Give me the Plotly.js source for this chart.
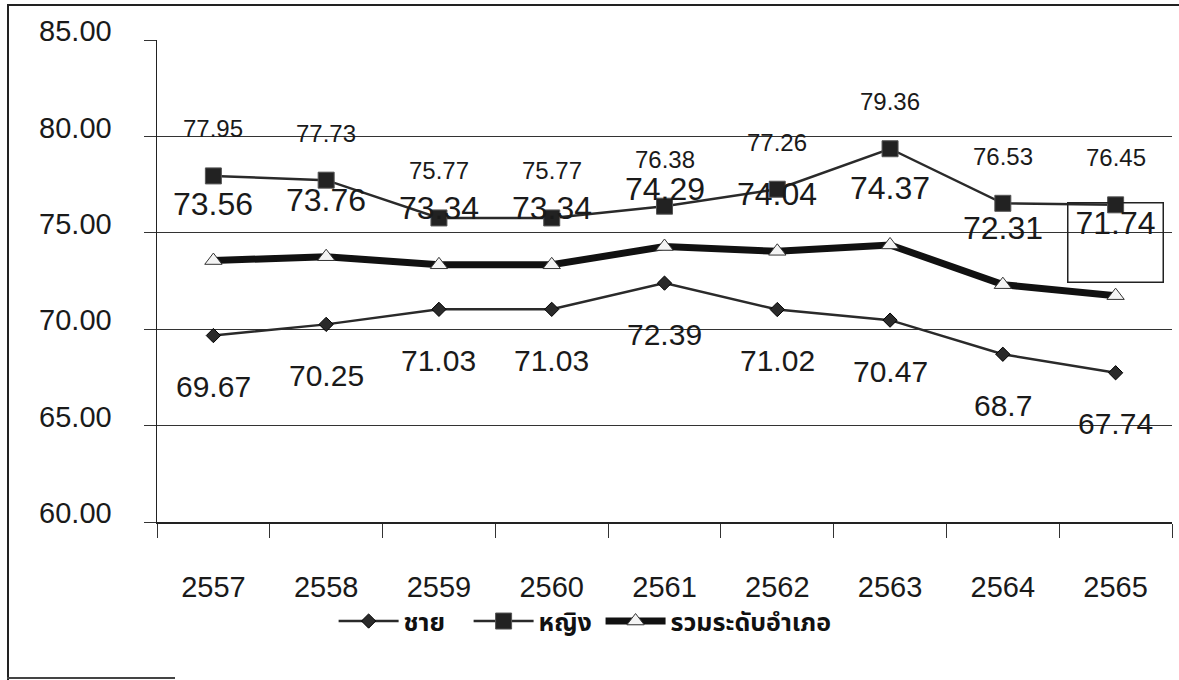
<!DOCTYPE html>
<html>
<head>
<meta charset="utf-8">
<script src="https://cdn.plot.ly/plotly-3.0.1.min.js"></script>
<style>
  html, body { margin: 0; padding: 0; background: #fff; }
  #wrap { position: relative; width: 1179px; height: 680px; overflow: hidden; }
  #chart { position: absolute; left: 0; top: 0; width: 1179px; height: 680px; }
  #frame { position: absolute; left: 7px; top: 4px; width: 1190px; height: 674px;
           border-left: 2px solid #222; border-top: 2px solid #222; pointer-events: none; }
  #frameBottom { position: absolute; left: 7px; top: 677px; width: 168px; height: 0;
           border-top: 2px solid #444; pointer-events: none; }
</style>
</head>
<body>
<div id="wrap">
  <div id="chart"></div>
  <div id="frame"></div>
  <div id="frameBottom"></div>
</div>
<script>
// ---- data ----
const years = ['2557', '2558', '2559', '2560', '2561', '2562', '2563', '2564', '2565'];
const male = [69.67, 70.25, 71.03, 71.03, 72.39, 71.02, 70.47, 68.7, 67.74];
const female = [77.95, 77.73, 75.77, 75.77, 76.38, 77.26, 79.36, 76.53, 76.45];
const total = [73.56, 73.76, 73.34, 73.34, 74.29, 74.04, 74.37, 72.31, 71.74];
const seriesNames = ['ชาย', 'หญิง', 'รวมระดับอำเภอ'];
const highlightYear = '2565';

// ---- styles ----
const ink = '#1a1a1a';
const numFont = 'Liberation Sans, Arial, sans-serif';
const thaiFont = 'Noto Sans Thai, Loma, Garuda, Tahoma, Noto Sans, sans-serif';

const traces = [
  {
    x: years, y: male, name: seriesNames[0], type: 'scatter', mode: 'lines+markers',
    legend: 'legend',
    line: { color: '#2a2a2a', width: 2.5 },
    marker: { symbol: 'diamond', size: 11, color: '#2a2a2a', line: { color: '#000', width: 1 } }
  },
  {
    x: years, y: female, name: seriesNames[1], type: 'scatter', mode: 'lines+markers',
    legend: 'legend2',
    line: { color: '#2a2a2a', width: 2.5 },
    marker: { symbol: 'square', size: 16, color: '#222', line: { color: '#555', width: 1 } }
  },
  {
    x: years, y: total, name: seriesNames[2], type: 'scatter', mode: 'lines+markers',
    legend: 'legend3',
    line: { color: '#111', width: 7 },
    marker: { symbol: 'triangle-up', size: 15, color: '#f4f4f4', line: { color: '#333', width: 1 } }
  }
];

const annotations = [];
function makeLabel(i, v, shift, size) {
  return {
    x: i, y: v, xref: 'x', yref: 'y', text: String(v), showarrow: false,
    xanchor: 'center', yanchor: 'middle', yshift: shift,
    font: { family: numFont, size: size, color: ink }
  };
}
male.forEach((v, i) => annotations.push(makeLabel(i, v, -51, 30)));
female.forEach((v, i) => annotations.push(makeLabel(i, v, 47, 24)));
total.forEach((v, i) => {
  const a = makeLabel(i, v, 57, 32);
  if (years[i] === highlightYear) {
    a.yshift = 53;
    a.height = 76; a.width = 92; a.valign = 'top';
    a.bordercolor = '#222'; a.borderwidth = 1.5; a.borderpad = 1;
  }
  annotations.push(a);
});

function legendAt(x) {
  return {
    orientation: 'h', x: x, xanchor: 'left', y: -0.206, yanchor: 'middle',
    itemwidth: 60,
    font: { family: thaiFont, size: 25, color: '#111', weight: 'bold' },
    bgcolor: 'rgba(0,0,0,0)'
  };
}

const layout = {
  width: 1179, height: 680,
  margin: { l: 157, r: 7, t: 40, b: 158 },
  paper_bgcolor: '#fff', plot_bgcolor: '#fff',
  showlegend: true,
  legend: legendAt(0.174),
  legend2: legendAt(0.307),
  legend3: legendAt(0.437),
  xaxis: {
    type: 'category', range: [-0.5, 8.5], tickson: 'boundaries',
    showline: true, linecolor: '#222', linewidth: 1.5,
    ticks: 'outside', ticklen: 14, tickcolor: '#333', tickwidth: 1,
    showgrid: false, zeroline: false,
    tickfont: { family: numFont, size: 29, color: ink },
    ticklabelstandoff: 39
  },
  yaxis: {
    range: [60, 85], dtick: 5, tickformat: '.2f',
    showline: true, linecolor: '#222', linewidth: 1.5,
    ticks: 'outside', ticklen: 12, tickcolor: '#333', tickwidth: 1,
    showgrid: true, gridcolor: '#333', gridwidth: 1, zeroline: false,
    tickfont: { family: numFont, size: 29, color: ink },
    ticklabelstandoff: 26, ticklabelshift: -9
  },
  annotations: annotations
};

Plotly.newPlot('chart', traces, layout, { displayModeBar: false, staticPlot: true });
</script>
</body>
</html>
